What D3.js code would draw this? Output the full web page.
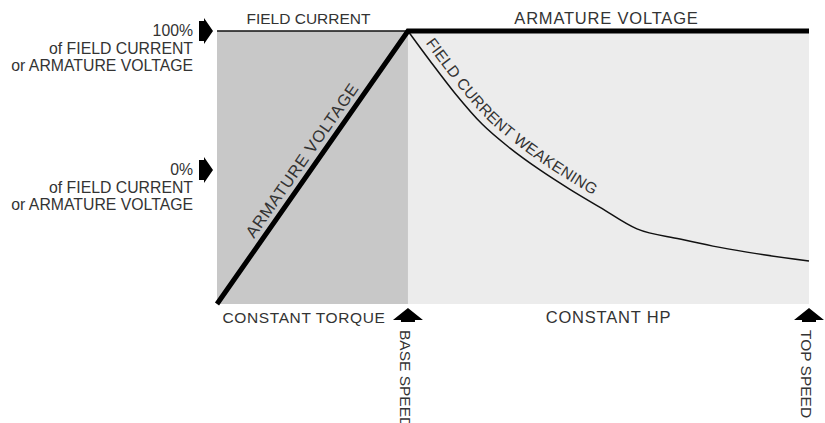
<!DOCTYPE html>
<html>
<head>
<meta charset="utf-8">
<script src="https://cdn.jsdelivr.net/npm/d3@7"></script>
<style>
  body { margin: 0; background: #fff; }
  svg text { font-family: "Liberation Sans", Arial, sans-serif; font-size: 15.5px; fill: #333; }
</style>
</head>
<body>
<div id="chart"></div>
<script>
"use strict";

// speed in % of base speed, outputs in % of full value
var baseSpeed = 100;
var topSpeed = 310;

var armatureSpeed = [0, 100, 310];
var armatureVoltage = [0, 100, 100];

var fieldSpeed = [0, 100, 111.5, 124.6, 138.8, 153.4, 169.1, 184.8, 200.6, 219.9, 242.4, 259.7, 277.5, 310];
var fieldCurrent = [100, 100, 89.1, 77.2, 65.9, 57.1, 49.1, 42.0, 35.4, 27.5, 23.8, 21.2, 19.0, 15.75];

var regionLabels = ["CONSTANT TORQUE", "CONSTANT HP"];
var speedLabels = ["BASE SPEED", "TOP SPEED"];
var levelLabels = [
    ["100%", "of FIELD CURRENT", "or ARMATURE VOLTAGE"],
    ["0%", "of FIELD CURRENT", "or ARMATURE VOLTAGE"]
];

var width = 825, height = 423;

var svg = d3.select("#chart")
    .append("svg")
    .attr("width", width)
    .attr("height", height);

var xScale = d3.scaleLinear()
    .domain([0, topSpeed])
    .range([217, 809]);

var yScale = d3.scaleLinear()
    .domain([0, 100])
    .range([304, 31]);

// shaded regions
svg.append("rect")
    .attr("x", xScale(0))
    .attr("y", yScale(100))
    .attr("width", xScale(baseSpeed) - xScale(0))
    .attr("height", yScale(0) - yScale(100))
    .style("fill", "#c8c8c8");

svg.append("rect")
    .attr("x", xScale(baseSpeed))
    .attr("y", yScale(100))
    .attr("width", xScale(topSpeed) - xScale(baseSpeed))
    .attr("height", yScale(0) - yScale(100))
    .style("fill", "#ececec");

var armature = armatureSpeed.map(function(s, i){ return [s, armatureVoltage[i]]; });
var field = fieldSpeed.map(function(s, i){ return [s, fieldCurrent[i]]; });

var line = d3.line()
    .x(function(d){ return xScale(d[0]); })
    .y(function(d){ return yScale(d[1]); });

// field current: flat up to base speed, then weakening
svg.append("path")
    .attr("d", line(field.slice(0, 2)))
    .style("fill", "none")
    .style("stroke", "#111")
    .style("stroke-width", 1.5);

svg.append("path")
    .attr("id", "weakening")
    .attr("d", line.curve(d3.curveMonotoneX)(field.slice(1)))
    .style("fill", "none")
    .style("stroke", "#111")
    .style("stroke-width", 1.5);

line.curve(d3.curveLinear);

svg.append("path")
    .attr("d", line(armature))
    .style("fill", "none")
    .style("stroke", "#000")
    .style("stroke-width", 5)
    .style("stroke-linejoin", "miter");

// curve labels
svg.append("text")
    .attr("x", (xScale(0) + xScale(baseSpeed)) / 2 - 4)
    .attr("y", 24)
    .attr("text-anchor", "middle")
    .text("FIELD CURRENT");

svg.append("text")
    .attr("x", (xScale(baseSpeed) + xScale(topSpeed)) / 2 - 2)
    .attr("y", 24)
    .attr("text-anchor", "middle")
    .style("font-size", "16.5px")
    .style("letter-spacing", "0.8px")
    .text("ARMATURE VOLTAGE");

var x0 = xScale(0), y0 = yScale(0), x1 = xScale(baseSpeed), y1 = yScale(100);
var angle = Math.atan2(y1 - y0, x1 - x0) * 180 / Math.PI;
svg.append("text")
    .attr("transform", "translate(" + ((x0 + x1) / 2) + "," + ((y0 + y1) / 2) + ") rotate(" + angle + ")")
    .attr("text-anchor", "middle")
    .attr("dy", -7)
    .style("font-size", "16.5px")
    .style("letter-spacing", "0.8px")
    .text("ARMATURE VOLTAGE");

svg.append("text")
    .attr("dy", -7)
    .style("letter-spacing", "0.4px")
    .append("textPath")
    .attr("href", "#weakening")
    .attr("startOffset", 20)
    .text("FIELD CURRENT WEAKENING");

// arrow shapes
var arrowRight = "M0,-10 L5,-10 L5,-13 L14,0 L5,13 L5,10 L0,10 Z";
var arrowUp = "M0,0 L15,12 L7,12 L7,14 L-7,14 L-7,12 L-15,12 Z";

var levelY = [yScale(100), 170];
levelLabels.forEach(function(lines, k){
    svg.append("path")
        .attr("d", arrowRight)
        .attr("transform", "translate(199," + levelY[k] + ")")
        .style("fill", "#000");
    var t = svg.append("text")
        .attr("text-anchor", "end")
        .attr("x", 193)
        .attr("y", levelY[k] + 5)
        .style("font-size", "15.8px");
    lines.forEach(function(s, i){
        t.append("tspan")
            .attr("x", 193)
            .attr("dy", i == 0 ? 0 : 17.5)
            .text(s);
    });
});

// region labels below the plot
svg.append("text")
    .attr("x", 304)
    .attr("y", 323)
    .attr("text-anchor", "middle")
    .style("letter-spacing", "0.6px")
    .text(regionLabels[0]);

svg.append("text")
    .attr("x", (xScale(baseSpeed) + xScale(topSpeed)) / 2)
    .attr("y", 323)
    .attr("text-anchor", "middle")
    .style("font-size", "16.5px")
    .style("letter-spacing", "0.8px")
    .text(regionLabels[1]);

// speed markers
[baseSpeed, topSpeed].forEach(function(s, i){
    var x = xScale(s);
    svg.append("path")
        .attr("d", arrowUp)
        .attr("transform", "translate(" + x + ",308)")
        .style("fill", "#000");
    svg.append("text")
        .attr("transform", "translate(" + (x - 8) + ",330) rotate(90)")
        .text(speedLabels[i]);
});
</script>
</body>
</html>
